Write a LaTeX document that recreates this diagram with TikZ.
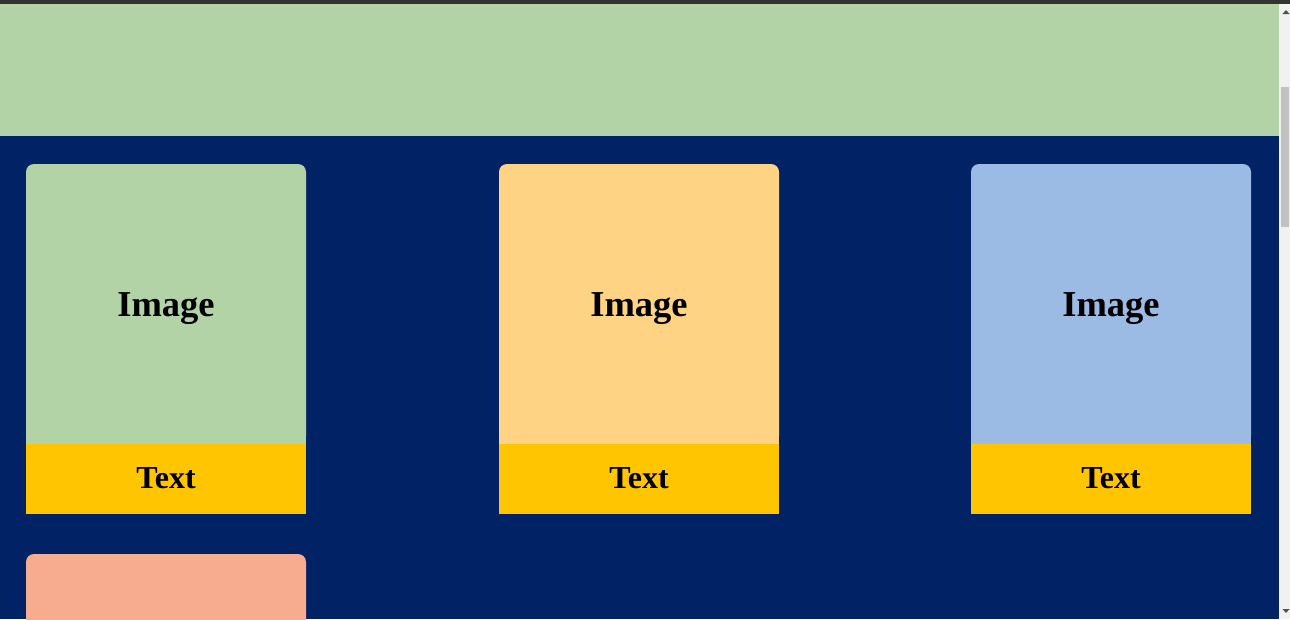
\documentclass[tikz,border=0pt]{standalone}
\usepackage{fontspec}
\setmainfont{Liberation Serif}
\definecolor{hdrgreen}{HTML}{B2D3A5}
\definecolor{navy}{HTML}{012265}
\definecolor{cardorange}{HTML}{FFD384}
\definecolor{cardblue}{HTML}{9BBBE5}
\definecolor{capyellow}{HTML}{FFC500}
\definecolor{salmon}{HTML}{F8AC8F}
\definecolor{topbar}{HTML}{333333}
\definecolor{sbbg}{HTML}{F1F1F1}
\definecolor{sbthumb}{HTML}{C1C1C1}
\definecolor{sbarrow}{HTML}{505050}
\tikzset{
  imglabel/.style={font=\fontsize{36.5}{42}\selectfont\bfseries, text=black, inner sep=0pt, anchor=base},
  caplabel/.style={font=\fontsize{32}{36}\selectfont\bfseries, text=black, inner sep=0pt, anchor=base},
}
\newcommand{\mycard}[4]{% x, ytop, color, name
  \fill[#3, rounded corners=8pt] (#1,#2) rectangle ++(280,280);
  \fill[#3] (#1,#2+200) rectangle ++(280,80);
  \fill[capyellow] (#1,#2+280) rectangle ++(280,70);
  \node[imglabel] (img#4) at (#1+140,#2+152) {Image};
  \node[caplabel] (txt#4) at (#1+140,#2+324) {Text};
}
\begin{document}
\begin{tikzpicture}[x=1pt,y=-1pt]
\useasboundingbox (0,0) rectangle (1290,619);
\clip (0,0) rectangle (1290,619);
% background
\fill[navy] (0,0) rectangle (1279,619);
\fill[hdrgreen] (0,0) rectangle (1279,136);
% cards
\mycard{26}{164}{hdrgreen}{a}
\mycard{499}{164}{cardorange}{b}
\mycard{971}{164}{cardblue}{c}
\fill[salmon, rounded corners=8pt] (26,554) rectangle ++(280,280);
% scrollbar
\fill[sbbg] (1279,0) rectangle (1290,619);
\fill[sbthumb] (1281,87) rectangle (1289,227);
\fill[sbarrow] (1282.5,14) -- (1289.5,14) -- (1286,10) -- cycle;
\fill[sbarrow] (1282.5,609) -- (1289.5,609) -- (1286,613) -- cycle;
% top bar
\fill[topbar] (0,0) rectangle (1290,3.5);
\end{tikzpicture}
\end{document}
